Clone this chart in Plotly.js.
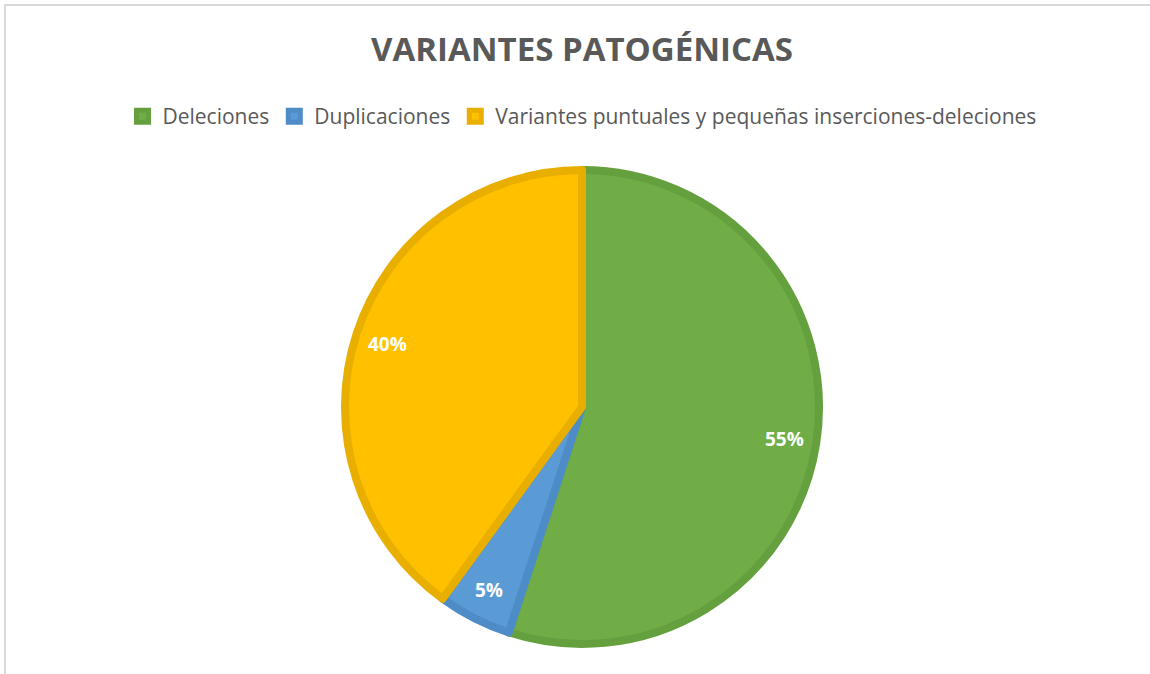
<!DOCTYPE html>
<html>
<head>
<meta charset="utf-8">
<script src="https://cdn.plot.ly/plotly-3.0.1.min.js"></script>
<style>
  html, body { margin: 0; padding: 0; background: #ffffff; }
  #wrap { position: relative; width: 1150px; height: 674px; overflow: hidden; }
  #frame { position: absolute; left: 4px; top: 4px; right: -10px; bottom: -10px;
           border-top: 2px solid #D9D9D9; border-left: 2px solid #D9D9D9; pointer-events: none; }
  #chart { position: absolute; left: 0; top: 0; width: 1150px; height: 674px; }
</style>
</head>
<body>
<div id="wrap">
  <div id="chart"></div>
  <div id="frame"></div>
</div>
<script>
const categories = ["Deleciones", "Duplicaciones", "Variantes puntuales y pequeñas inserciones-deleciones"];
const values = [55, 5, 40];
const fillColors = ["#70AD47", "#5B9BD5", "#FFC000"];
const borderColors = ["#65A03F", "#4E8CC7", "#E8AE00"];
const chartTitle = "VARIANTES PATOGÉNICAS";

const W = 1150, H = 674;
const M = { l: 14, r: 0, t: 170, b: 30 };
const plotW = W - M.l - M.r, plotH = H - M.t - M.b;
const lineW = 8;
const outerR = Math.min(plotW, plotH) / 2 + lineW / 2;
const labelFrac = 0.85;

const trace = {
  type: "pie",
  labels: categories,
  values: values,
  sort: false,
  direction: "clockwise",
  rotation: 0,
  marker: { colors: fillColors, line: { color: borderColors, width: lineW } },
  textinfo: "none",
  textposition: "none",
  hoverinfo: "label+percent",
  showlegend: true
};

// percentage labels placed at the mid-angle of each slice, computed from the values
const total = values.reduce((a, b) => a + b, 0);
const annotations = [];
let cum = 0;
values.forEach((v, i) => {
  const mid = (cum + v / 2) / total * 2 * Math.PI;
  cum += v;
  const dx = Math.sin(mid) * outerR * labelFrac;   // screen right
  const dyUp = Math.cos(mid) * outerR * labelFrac; // screen up
  annotations.push({
    xref: "paper", yref: "paper",
    x: 0.5 + dx / plotW, y: 0.5 + dyUp / plotH,
    xanchor: "center", yanchor: "middle",
    showarrow: false,
    text: "<b>" + Math.round(v / total * 100) + "%</b>",
    font: { family: "Open Sans, sans-serif", size: 19, color: "#ffffff" }
  });
});

const layout = {
  width: W,
  height: H,
  margin: { l: M.l, r: M.r, t: M.t, b: M.b, pad: 0 },
  paper_bgcolor: "#ffffff",
  plot_bgcolor: "#ffffff",
  title: {
    text: "<b>" + chartTitle + "</b>",
    font: { family: "Open Sans, sans-serif", size: 33, color: "#595959" },
    x: 0.5, xanchor: "center", xref: "paper",
    y: 1 - 49 / H, yref: "container", yanchor: "middle"
  },
  showlegend: true,
  legend: {
    orientation: "h",
    x: 0.5, xanchor: "center", xref: "paper",
    y: 1 - 96 / H, yref: "container", yanchor: "top",
    font: { family: "Open Sans, sans-serif", size: 21, color: "#595959" },
    traceorder: "normal"
  },
  annotations: annotations
};

Plotly.newPlot("chart", [trace], layout, { displayModeBar: false, staticPlot: true });
</script>
</body>
</html>
